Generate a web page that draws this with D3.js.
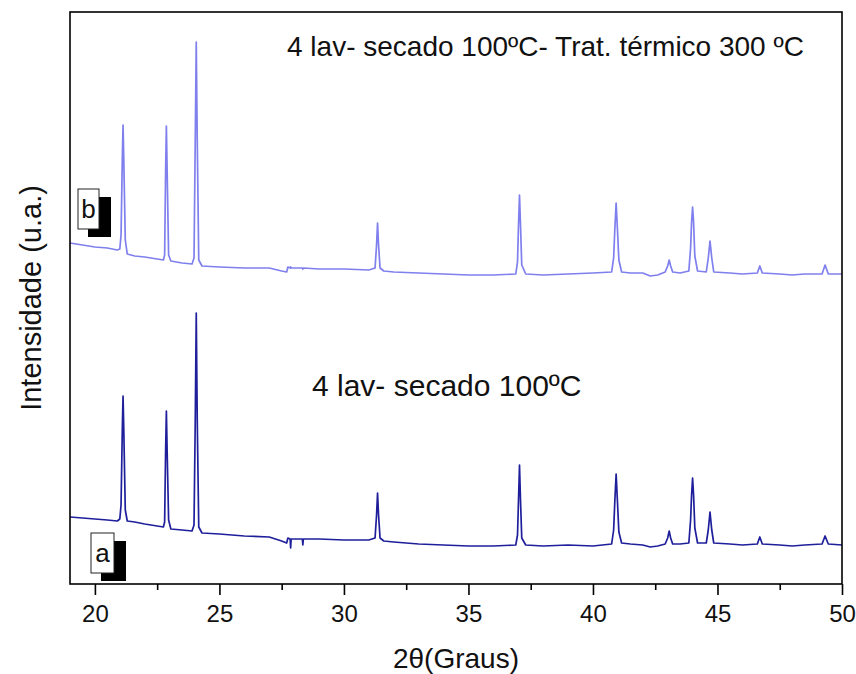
<!DOCTYPE html>
<html>
<head>
<meta charset="utf-8">
<script src="https://cdn.jsdelivr.net/npm/d3@7"></script>
<style>
  html, body { margin: 0; padding: 0; background: #fff; }
  svg { display: block; font-family: "Liberation Sans", Arial, sans-serif; }
</style>
</head>
<body>
<svg id="chart" width="856" height="674"></svg>
<script>
// 2θ positions (degrees) shared by both diffractograms
const twoTheta = [
  19, 19.5, 20, 20.5, 20.9,
  21.0, 21.05, 21.1, 21.13, 21.16, 21.22, 21.3, 21.6,
  22, 22.5, 22.75, 22.8, 22.84, 22.87, 22.9, 22.96,
  23.05, 23.5, 23.9, 23.98, 24.03, 24.07, 24.11, 24.17, 24.3,
  25, 26, 27, 27.5, 27.7, 27.75,
  27.84, 27.86, 27.88, 28.33, 28.35, 28.37,
  29, 30, 31,
  31.25, 31.31, 31.35, 31.39, 31.45, 31.6,
  32, 33, 34, 35, 36,
  36.9, 36.97, 37.01, 37.05, 37.09, 37.14, 37.3,
  38, 39, 40,
  40.75, 40.83, 40.88, 40.93, 40.98, 41.04, 41.15, 41.5,
  42, 42.3, 42.6, 42.9,
  43.0, 43.06, 43.12, 43.2, 43.5,
  43.85, 43.92, 43.96, 44.0, 44.04, 44.09, 44.2,
  44.55, 44.63, 44.7, 44.77, 44.85,
  45.5, 46, 46.6, 46.7, 46.8,
  47.5, 48, 48.5,
  49.2, 49.32, 49.45, 50
];

// (a) 4 lav- secado 100ºC  — intensity (u.a.)
const intensityA = [
  67, 66, 65, 64, 63,
  65, 79, 154, 188, 154, 74, 63, 62,
  60, 58, 57, 62, 134, 173, 134, 64,
  55, 54, 53, 59, 164, 271, 164, 57, 51,
  50, 48, 47, 43, 41, 46,
  45, 36, 45, 45, 39, 45,
  45, 44, 44,
  46, 69, 91, 69, 46, 43,
  42, 40, 39, 38, 38,
  39, 49, 84, 119, 84, 46, 39,
  38, 39, 38,
  40, 54, 84, 110, 84, 52, 41, 40,
  39, 37, 38, 40,
  46, 53, 46, 40, 40,
  41, 64, 89, 106, 89, 56, 41,
  41, 54, 72, 54, 41,
  40, 39, 40, 47, 40,
  39, 38, 39,
  40, 48, 40, 39
];

// (b) 4 lav- secado 100ºC- Trat. térmico 300 ºC — intensity (u.a.)
const intensityB = [
  69, 67, 65, 64, 62,
  63, 77, 152, 187, 152, 72, 58, 56,
  55, 53, 52, 57, 142, 186, 142, 57,
  51, 49, 48, 54, 172, 270, 172, 52, 46,
  45, 44, 44, 41, 40, 45,
  44, 45, 44, 44, 43, 44,
  43, 43, 42,
  44, 67, 89, 67, 44, 41,
  40, 39, 38, 37, 37,
  38, 50, 87, 117, 87, 47, 38,
  37, 38, 39,
  40, 54, 84, 109, 84, 52, 40, 39,
  39, 36, 37, 40,
  46, 52, 46, 40, 39,
  41, 64, 90, 105, 90, 56, 41,
  40, 54, 71, 54, 40,
  39, 38, 39, 46, 39,
  38, 37, 38,
  38, 47, 38, 38
];

// vertical stacking offset applied to pattern (b)
const offsetB = 272;

const xTicks = [20, 25, 30, 35, 40, 45, 50];
const xMinorTicks = [22.5, 27.5, 32.5, 37.5, 42.5, 47.5];
const xDomain = [19, 50];
const yDomain = [0, 572];

const labelA = "4 lav- secado 100ºC";
const labelB = "4 lav- secado 100ºC- Trat. térmico 300 ºC";

const colorA = "#1f1f9c";
const colorB = "#7f7fee";

const svg = d3.select("#chart");
const plot = { left: 70, right: 842, top: 12, bottom: 584 };

const x = d3.scaleLinear().domain(xDomain).range([plot.left, plot.right]);
const y = d3.scaleLinear().domain(yDomain).range([plot.bottom, plot.top]);

const line = d3.line()
  .x(d => x(d[0]))
  .y(d => y(d[1]));

const seriesA = twoTheta.map((t, i) => [t, intensityA[i]]);
const seriesB = twoTheta.map((t, i) => [t, intensityB[i] + offsetB]);

// diffractograms
svg.append("path").datum(seriesB)
  .attr("d", line).attr("fill", "none")
  .attr("stroke", colorB).attr("stroke-width", 1.7)
  .attr("stroke-linejoin", "round");

svg.append("path").datum(seriesA)
  .attr("d", line).attr("fill", "none")
  .attr("stroke", colorA).attr("stroke-width", 1.7)
  .attr("stroke-linejoin", "round");

// frame
svg.append("rect")
  .attr("x", plot.left).attr("y", plot.top)
  .attr("width", plot.right - plot.left).attr("height", plot.bottom - plot.top)
  .attr("fill", "none").attr("stroke", "#000").attr("stroke-width", 1.6);

// bottom axis: major ticks with labels, minor ticks without
const xAxis = d3.axisBottom(x).tickValues(xTicks).tickSize(11).tickPadding(10)
  .tickFormat(d3.format("d"));
const gx = svg.append("g").attr("transform", `translate(0,${plot.bottom})`).call(xAxis);
gx.select(".domain").remove();
gx.selectAll(".tick line").attr("stroke", "#000").attr("stroke-width", 1.6);
gx.selectAll(".tick text").attr("font-size", 24).attr("fill", "#111")
  .attr("font-family", "'Liberation Sans', Arial, sans-serif");

const gxm = svg.append("g").attr("transform", `translate(0,${plot.bottom})`)
  .call(d3.axisBottom(x).tickValues(xMinorTicks).tickSize(6).tickFormat(""));
gxm.select(".domain").remove();
gxm.selectAll(".tick line").attr("stroke", "#000").attr("stroke-width", 1.6);

// axis titles
svg.append("text")
  .attr("x", 456).attr("y", 668)
  .attr("text-anchor", "middle").attr("font-size", 28).attr("fill", "#111")
  .text("2θ(Graus)");

svg.append("text")
  .attr("transform", `translate(41,${(plot.top + plot.bottom) / 2}) rotate(-90)`)
  .attr("text-anchor", "middle").attr("font-size", 29).attr("fill", "#111")
  .text("Intensidade (u.a.)");

// sample annotations
svg.append("text").attr("x", 287).attr("y", 56)
  .attr("font-size", 28).attr("fill", "#111").text(labelB);
svg.append("text").attr("x", 312).attr("y", 396)
  .attr("font-size", 30).attr("fill", "#111").text(labelA);

// letter tags with drop shadow
function tag(letter, bx, by, w, h) {
  const g = svg.append("g");
  g.append("rect").attr("x", bx + 10).attr("y", by + 8).attr("width", w + 2).attr("height", h)
    .attr("fill", "#000");
  g.append("rect").attr("x", bx).attr("y", by).attr("width", w).attr("height", h)
    .attr("fill", "#fff").attr("stroke", "#222").attr("stroke-width", 1);
  g.append("text").attr("x", bx + w / 2).attr("y", by + h / 2 + 9)
    .attr("text-anchor", "middle").attr("font-size", 26).attr("fill", "#111").text(letter);
}
tag("b", 78, 189, 21, 40);
tag("a", 91, 533, 23, 40);
</script>
</body>
</html>
